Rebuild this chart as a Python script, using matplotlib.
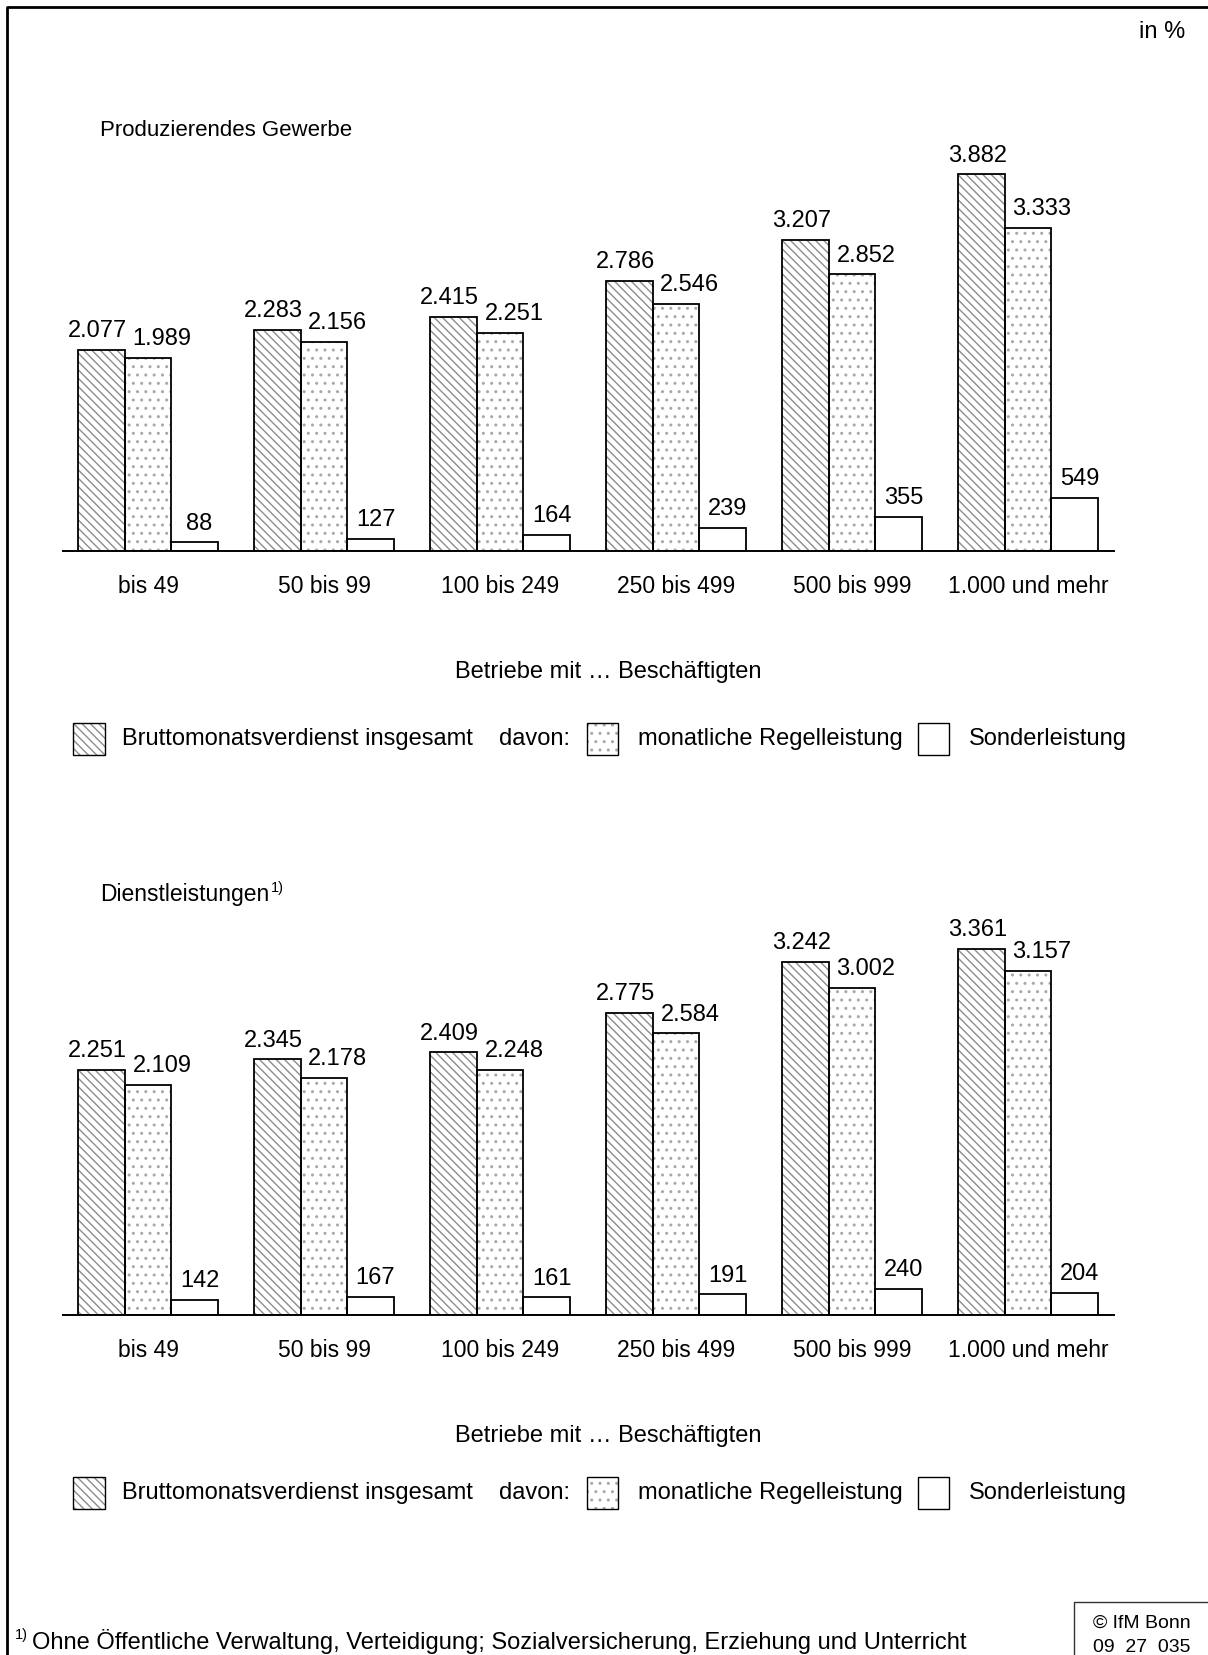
import numpy as np
import matplotlib
matplotlib.use('Agg')
import matplotlib.pyplot as plt
from matplotlib.patches import Rectangle
from matplotlib.lines import Line2D

plt.rcParams['font.family'] = ['Liberation Sans', 'DejaVu Sans']

# data
groups = ['bis 49', '50 bis 99', '100 bis 249', '250 bis 499', '500 bis 999', '1.000 und mehr']
prod_brutto = [2077, 2283, 2415, 2786, 3207, 3882]
prod_regel = [1989, 2156, 2251, 2546, 2852, 3333]
prod_sonder = [88, 127, 164, 239, 355, 549]
dienst_brutto = [2251, 2345, 2409, 2775, 3242, 3361]
dienst_regel = [2109, 2178, 2248, 2584, 3002, 3157]
dienst_sonder = [142, 167, 161, 191, 240, 204]

W, H = 1208, 1655
fig = plt.figure(figsize=(W / 100, H / 100), dpi=100)


def fx(x):
    return x / W


def fy(y):
    return 1 - y / H


def fmt(v):
    return f'{v:,}'.replace(',', '.')


FS = 17
bw = 0.265
hatch_grey = '#8c8c8c'
dot_grey = '#a8a8a8'
label_dx = [-3, 10, 3.5]   # points, per series


def panel(base_px, ymax, brutto, regel, sonder):
    ax = fig.add_axes([fx(63), fy(base_px), fx(1114 - 63), 411 / H])
    x = np.arange(len(groups))
    # hatched fill, then black outline on top
    ax.bar(x - bw, brutto, bw, color='white', edgecolor=hatch_grey, hatch='\\\\\\\\', linewidth=0)
    ax.bar(x, regel, bw, color='white', edgecolor=dot_grey, hatch='..', linewidth=0)
    for xs, vals in [(x - bw, brutto), (x, regel), (x + bw, sonder)]:
        ax.bar(xs, vals, bw, fill=False, edgecolor='black', linewidth=1.3)
    for i in range(len(groups)):
        for j, vals in enumerate([brutto, regel, sonder]):
            ax.annotate(fmt(vals[i]), (x[i] + (j - 1) * bw, vals[i]), xytext=(label_dx[j], 5.5),
                        textcoords='offset points', ha='center', va='bottom', fontsize=FS)
    ax.set_xlim((63 - 148) / 176, (1114 - 148) / 176)
    ax.set_ylim(0, ymax)
    ax.set_xticks(x)
    ax.set_xticklabels(groups, fontsize=16.5)
    ax.tick_params(axis='x', length=0, pad=17)
    ax.set_yticks([])
    for s in ['top', 'left', 'right']:
        ax.spines[s].set_visible(False)
    ax.spines['bottom'].set_linewidth(1.4)
    ax.patch.set_alpha(0)
    return ax


panel(551, 411 / 0.097, prod_brutto, prod_regel, prod_sonder)
panel(1315, 411 / 0.109, dienst_brutto, dienst_regel, dienst_sonder)


def legend_row(yc):
    sq = [(73, 105, 'hatch'), (587, 618, 'dots'), (918, 949, 'plain')]
    for x0, x1, kind in sq:
        if kind == 'hatch':
            fig.add_artist(Rectangle((fx(x0), fy(yc + 16)), fx(x1 - x0), 32 / H, transform=fig.transFigure,
                                     facecolor='white', edgecolor=hatch_grey, hatch='\\\\\\\\', linewidth=0))
        elif kind == 'dots':
            fig.add_artist(Rectangle((fx(x0), fy(yc + 16)), fx(x1 - x0), 32 / H, transform=fig.transFigure,
                                     facecolor='white', edgecolor=dot_grey, hatch='..', linewidth=0))
        fig.add_artist(Rectangle((fx(x0), fy(yc + 16)), fx(x1 - x0), 32 / H, transform=fig.transFigure,
                                 fill=False, edgecolor='black', linewidth=1.0))
    fig.text(fx(122), fy(yc), 'Bruttomonatsverdienst insgesamt', fontsize=FS, va='center', ha='left')
    fig.text(fx(499), fy(yc), 'davon:', fontsize=FS, va='center', ha='left')
    fig.text(fx(638), fy(yc), 'monatliche Regelleistung', fontsize=FS, va='center', ha='left')
    fig.text(fx(969), fy(yc), 'Sonderleistung', fontsize=FS, va='center', ha='left')


legend_row(739)
legend_row(1493)

fig.text(fx(608), fy(672), 'Betriebe mit … Beschäftigten', fontsize=FS, ha='center', va='center')
fig.text(fx(608), fy(1436), 'Betriebe mit … Beschäftigten', fontsize=FS, ha='center', va='center')

fig.text(fx(100), fy(130), 'Produzierendes Gewerbe', fontsize=16, ha='left', va='center')
t = fig.text(fx(100), fy(894), 'Dienstleistungen', fontsize=16.5, ha='left', va='center')
fig.canvas.draw()
bb = t.get_window_extent()
fig.text(bb.x1 / W + 0.001, fy(888), '1)', fontsize=10.5, ha='left', va='center')

fig.text(fx(1185), fy(32), 'in %', fontsize=FS, ha='right', va='center')

# footnote
fig.text(fx(15), fy(1635), '1)', fontsize=10.5, ha='left', va='center')
fig.text(fx(32), fy(1642), 'Ohne Öffentliche Verwaltung, Verteidigung; Sozialversicherung, Erziehung und Unterricht',
         fontsize=FS, ha='left', va='center')

# source box
fig.text(fx(1093), fy(1623), '© IfM Bonn', fontsize=14, ha='left', va='center')
fig.text(fx(1093), fy(1647), '09  27  035', fontsize=14, ha='left', va='center')
fig.add_artist(Line2D([fx(1074), fx(1074), fx(1208)], [fy(1655), fy(1602), fy(1602)],
                      transform=fig.transFigure, color='#333333', linewidth=1.0))

# outer frame
fig.add_artist(Line2D([fx(7), fx(7), fx(1208)], [fy(1655), fy(7), fy(7)],
                      transform=fig.transFigure, color='black', linewidth=2.0))

fig.savefig('out.png', dpi=100)
